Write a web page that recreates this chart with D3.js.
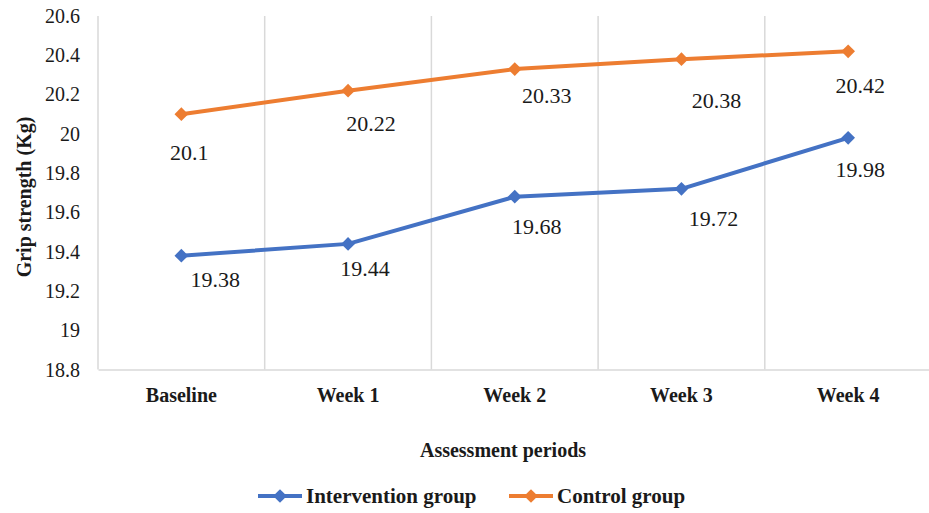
<!DOCTYPE html>
<html>
<head>
<meta charset="utf-8">
<script src="https://cdn.jsdelivr.net/npm/d3@7/dist/d3.min.js"></script>
<style>
  html, body { margin: 0; padding: 0; background: #fff; }
</style>
</head>
<body>
<svg id="chart" width="929" height="513" font-family="Liberation Serif, Times New Roman, serif"></svg>
<script>
// Assessment periods and grip strength (Kg) per group
const periods = ["Baseline", "Week 1", "Week 2", "Week 3", "Week 4"];
const interventionValues = [19.38, 19.44, 19.68, 19.72, 19.98];
const controlValues = [20.1, 20.22, 20.33, 20.38, 20.42];
const yTicks = [18.8, 19, 19.2, 19.4, 19.6, 19.8, 20, 20.2, 20.4, 20.6];
const seriesNames = ["Intervention group", "Control group"];

// Value-label offsets (px) relative to each marker
const interventionLabelDx = [34, 17, 22, 32, 12];
const interventionLabelDy = [24, 24, 30, 29, 32];
const controlLabelDx = [8, 23, 32, 35, 12];
const controlLabelDy = [38, 33, 26, 41, 34];

const FONT = "Liberation Serif, Times New Roman, serif";
const INK = "#1a1a1a";

const svg = d3.select("#chart");
const plot = { left: 98, right: 931.5, top: 16, bottom: 369.6 };

const x = d3.scaleBand().domain(periods).range([plot.left, plot.right]).paddingInner(0).paddingOuter(0);
const y = d3.scaleLinear().domain([18.8, 20.6]).range([plot.bottom, plot.top]);
const cx = p => x(p) + x.bandwidth() / 2;

const gridColor = "#d9d9d9";

// Vertical separators between periods
svg.append("g")
  .selectAll("line")
  .data(periods)
  .join("line")
  .attr("x1", d => x(d)).attr("x2", d => x(d))
  .attr("y1", plot.top).attr("y2", plot.bottom)
  .attr("stroke", gridColor).attr("stroke-width", 1.5);

// Category axis
const xAxis = svg.append("g")
  .attr("transform", `translate(0,${plot.bottom})`)
  .call(d3.axisBottom(x).tickSize(0).tickPadding(0))
  .attr("font-family", FONT);
xAxis.select(".domain").attr("stroke", gridColor).attr("stroke-width", 1.5);
xAxis.selectAll("text")
  .attr("dy", "0.32em").attr("y", 26)
  .attr("font-family", FONT).attr("font-size", 20)
  .attr("font-weight", "bold").attr("fill", INK);

// Value axis
const yAxis = svg.append("g")
  .attr("transform", `translate(${plot.left},0)`)
  .call(d3.axisLeft(y).tickValues(yTicks).tickSize(0).tickPadding(18)
    .tickFormat(d => d3.format("")(+d.toFixed(1))))
  .attr("font-family", FONT);
yAxis.select(".domain").remove();
yAxis.selectAll("text")
  .attr("font-family", FONT).attr("font-size", 20).attr("fill", INK);

// Axis titles
svg.append("text")
  .attr("x", 503).attr("y", 450).attr("dy", "0.35em")
  .attr("text-anchor", "middle")
  .attr("font-family", FONT)
  .attr("font-size", 20).attr("font-weight", "bold").attr("fill", INK)
  .text("Assessment periods");
svg.append("text")
  .attr("transform", "translate(24,197) rotate(-90)")
  .attr("dy", "0.35em")
  .attr("text-anchor", "middle")
  .attr("font-family", FONT)
  .attr("font-size", 20).attr("font-weight", "bold").attr("fill", INK)
  .text("Grip strength (Kg)");

const diamond = d3.symbol().type(d3.symbolDiamond2).size(120);

const series = [
  { name: seriesNames[0], values: interventionValues, color: "#4472C4", dx: interventionLabelDx, dy: interventionLabelDy },
  { name: seriesNames[1], values: controlValues, color: "#ED7D31", dx: controlLabelDx, dy: controlLabelDy }
];

const line = d3.line().x((d, i) => cx(periods[i])).y(d => y(d));

series.forEach(s => {
  const g = svg.append("g");
  g.append("path")
    .datum(s.values)
    .attr("d", line)
    .attr("fill", "none").attr("stroke", s.color)
    .attr("stroke-width", 4).attr("stroke-linejoin", "round");
  g.selectAll("path.marker")
    .data(s.values)
    .join("path").attr("class", "marker")
    .attr("d", diamond)
    .attr("transform", (d, i) => `translate(${cx(periods[i])},${y(d)})`)
    .attr("fill", s.color);
  g.selectAll("text")
    .data(s.values)
    .join("text")
    .attr("x", (d, i) => cx(periods[i]) + s.dx[i])
    .attr("y", (d, i) => y(d) + s.dy[i])
    .attr("dy", "0.35em")
    .attr("text-anchor", "middle")
    .attr("font-family", FONT)
    .attr("font-size", 22).attr("fill", INK)
    .text(d => d);
});

// Legend
const legendItems = [
  { name: seriesNames[0], color: series[0].color, x0: 258 },
  { name: seriesNames[1], color: series[1].color, x0: 509 }
];
const lg = svg.append("g");
legendItems.forEach(it => {
  lg.append("line")
    .attr("x1", it.x0).attr("x2", it.x0 + 44)
    .attr("y1", 496).attr("y2", 496)
    .attr("stroke", it.color).attr("stroke-width", 4);
  lg.append("path")
    .attr("d", diamond)
    .attr("transform", `translate(${it.x0 + 22},496)`)
    .attr("fill", it.color);
  lg.append("text")
    .attr("x", it.x0 + 48).attr("y", 496).attr("dy", "0.35em")
    .attr("font-family", FONT)
    .attr("font-size", 21).attr("font-weight", "bold").attr("fill", INK)
    .text(it.name);
});
</script>
</body>
</html>
